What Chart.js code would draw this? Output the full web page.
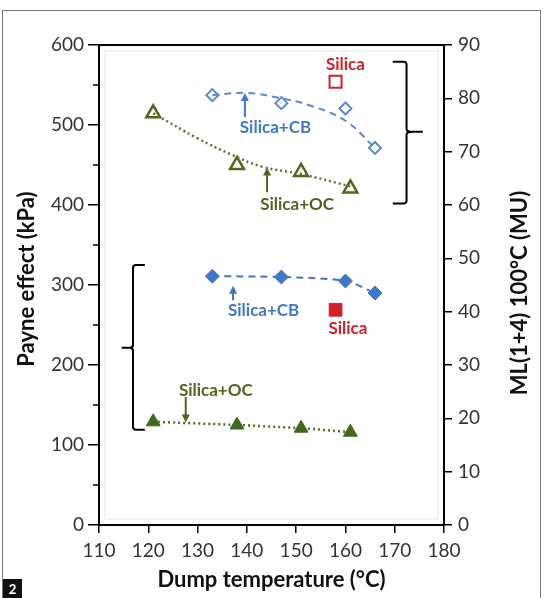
<!DOCTYPE html>
<html><head><meta charset="utf-8">
<script src="https://cdn.jsdelivr.net/npm/chart.js@4.4.1/dist/chart.umd.min.js"></script>
<style>
html,body{margin:0;padding:0;background:#fff;}
#wrap{position:relative;width:545px;height:598px;overflow:hidden;background:#fff;}
#frame{position:absolute;left:2px;top:10px;width:539px;height:600px;border:1.5px solid #7a7a7a;box-sizing:border-box;}
#badge{position:absolute;left:3px;top:579px;width:19px;height:19px;background:#111;color:#fff;font:bold 13px Lato, sans-serif;text-align:center;line-height:20px;}
canvas{position:absolute;left:0;top:0;}
</style></head><body>
<div id="wrap"><div id="frame"></div><canvas id="c" width="545" height="598"></canvas><div id="badge">2</div></div>
<script>
// ---- data ----
const tempCB = [133, 147, 160, 166];
const tempOC = [121, 138, 151, 161];
const tempSilica = [158];
const mlCB = [80.6, 79.1, 78.1, 70.7];        // ML(1+4) 100°C, open diamonds (right axis)
const mlOC = [77.2, 67.5, 66.2, 63.1];        // open triangles (right axis)
const mlSilica = [83.1];                      // open square (right axis)
const payneCB = [311, 310, 305, 290];         // Payne effect, filled diamonds (left axis)
const payneOC = [129, 125, 121, 116];         // filled triangles (left axis)
const payneSilica = [269];                    // filled square (left axis)
// trend curves (right axis)
const trendTempCB = [133, 140, 147, 153, 160, 166];
const trendMlCB = [80.6, 81.0, 80.0, 78.6, 75.8, 70.7];
const trendTempOC = [121, 130, 137, 143, 151, 161];
const trendMlOC = [77.2, 72.5, 69.4, 67.2, 65.8, 63.5];
const xTickValues = [110, 120, 130, 140, 150, 160, 170, 180];
const leftTickValues = [0, 100, 200, 300, 400, 500, 600];
const rightTickValues = [0, 10, 20, 30, 40, 50, 60, 70, 80, 90];
const leftTitle = 'Payne effect (kPa)';
const rightTitle = 'ML(1+4) 100°C (MU)';
const xTitle = 'Dump temperature (°C)';

const BLUE = '#3f78c4', BLUE_L = '#5a8ad0', OLIVE = '#56631f', GREEN = '#3d6a1c', RED = '#d0202a';

// annotations in data units (x = °C, y = kPa on left axis)
const labels = [
  {text:'Silica+CB', x:145.8, y:497, color:BLUE},
  {text:'Silica+OC', x:150.2, y:400, color:OLIVE},
  {text:'Silica',    x:160.0, y:575, color:RED},
  {text:'Silica+CB', x:143.4, y:268, color:BLUE},
  {text:'Silica',    x:160.5, y:245, color:RED},
  {text:'Silica+OC', x:133.7, y:168, color:OLIVE}
];
const arrows = [
  {x:139.6, from:510, to:540, color:BLUE},
  {x:144.1, from:416, to:447, color:OLIVE},
  {x:137.2, from:281, to:299, color:BLUE},
  {x:127.6, from:160, to:128, color:OLIVE}
];
const brackets = [
  {x:172.4, top:579, bottom:402, hook:169.6, mid:491.6, tip:175.7},
  {x:116.9, top:325, bottom:119, hook:119.3, mid:221.6, tip:114.6}
];

const pts = (xs, ys) => xs.map((x, i) => ({x, y: ys[i]}));

const overlay = {
  id: 'overlay',
  afterDraw(chart) {
    const {ctx, chartArea: a, scales} = chart;
    const X = v => scales.x.getPixelForValue(v);
    const Y = v => scales.y.getPixelForValue(v);
    ctx.save();
    // faint inner plot frame
    ctx.strokeStyle = '#efe4d8'; ctx.lineWidth = 1;
    ctx.strokeRect(a.left + 6, a.top + 6, a.right - a.left - 12, a.bottom - a.top - 12);
    // top border
    ctx.strokeStyle = '#000'; ctx.lineWidth = 2;
    ctx.beginPath(); ctx.moveTo(a.left - 1, a.top); ctx.lineTo(a.right + 1, a.top); ctx.stroke();
    // minor ticks on left axis
    ctx.lineWidth = 1.5;
    for (let v = 50; v < 600; v += 100) {
      const y = Y(v);
      ctx.beginPath(); ctx.moveTo(a.left - 6, y); ctx.lineTo(a.left, y); ctx.stroke();
    }
    // brackets
    ctx.lineWidth = 2; ctx.strokeStyle = '#000';
    brackets.forEach(b => {
      const x = X(b.x), t = Y(b.top), bo = Y(b.bottom), h = X(b.hook), m = Y(b.mid), tp = X(b.tip);
      const d = Math.sign(x - h) * 3;
      const k = x + (tp - x) * 0.3;
      ctx.beginPath();
      ctx.moveTo(h, t); ctx.lineTo(x - d, t); ctx.quadraticCurveTo(x, t, x, t + 3);
      ctx.lineTo(x, m - 3); ctx.quadraticCurveTo(x, m, k, m);
      ctx.lineTo(tp, m);
      ctx.moveTo(k, m); ctx.quadraticCurveTo(x, m, x, m + 3);
      ctx.lineTo(x, bo - 3); ctx.quadraticCurveTo(x, bo, x - d, bo); ctx.lineTo(h, bo);
      ctx.stroke();
    });
    // arrows
    arrows.forEach(ar => {
      const x = X(ar.x), y0 = Y(ar.from), y1 = Y(ar.to);
      const dir = Math.sign(y1 - y0);
      ctx.strokeStyle = ar.color; ctx.fillStyle = ar.color; ctx.lineWidth = 2;
      ctx.beginPath(); ctx.moveTo(x, y0); ctx.lineTo(x, y1 - dir * 6); ctx.stroke();
      ctx.beginPath(); ctx.moveTo(x, y1); ctx.lineTo(x - 4, y1 - dir * 8); ctx.lineTo(x + 4, y1 - dir * 8); ctx.closePath(); ctx.fill();
    });
    // labels
    ctx.font = 'bold 17px Lato, sans-serif';
    ctx.textAlign = 'center'; ctx.textBaseline = 'middle';
    labels.forEach(l => { ctx.fillStyle = l.color; ctx.fillText(l.text, X(l.x), Y(l.y)); });
    // vertical axis titles (both read bottom-to-top)
    ctx.fillStyle = '#111';
    ctx.font = 'bold 22px Lato, sans-serif';
    const midY = (a.top + a.bottom) / 2;
    [[27, midY - 6, leftTitle], [520, midY + 8, rightTitle]].forEach(([tx, ty, s]) => {
      ctx.save(); ctx.translate(tx, ty); ctx.rotate(-Math.PI / 2); ctx.fillText(s, 0, 0); ctx.restore();
    });
    ctx.restore();
  }
};

const tickFont = {family: 'Lato', size: 19};
const titleFont = {family: 'Lato', size: 22, weight: 'bold'};

new Chart(document.getElementById('c'), {
  type: 'scatter',
  data: {
    datasets: [
      {data: pts(trendTempCB, trendMlCB), yAxisID: 'y2', showLine: true, tension: 0.4, borderDash: [7, 5], borderColor: BLUE_L, borderWidth: 2, pointRadius: 0},
      {data: pts(trendTempOC, trendMlOC), yAxisID: 'y2', showLine: true, tension: 0.4, borderDash: [2, 3], borderColor: '#6b6a2c', borderWidth: 2.5, pointRadius: 0},
      {data: pts(tempCB, mlCB), yAxisID: 'y2',
       pointStyle: 'rectRot', pointRadius: 6, pointBackgroundColor: '#fff', pointBorderColor: BLUE_L, pointBorderWidth: 2},
      {data: pts(tempOC, mlOC), yAxisID: 'y2',
       pointStyle: 'triangle', pointRadius: 8, pointBackgroundColor: '#fff', pointBorderColor: OLIVE, pointBorderWidth: 2.5},
      {data: pts(tempSilica, mlSilica), yAxisID: 'y2',
       pointStyle: 'rect', pointRadius: 8.5, pointBackgroundColor: '#fff', pointBorderColor: RED, pointBorderWidth: 2},
      {data: pts(tempCB, payneCB), yAxisID: 'y', showLine: true, tension: 0.3, borderDash: [7, 5], borderColor: BLUE, borderWidth: 2,
       pointStyle: 'rectRot', pointRadius: 7, pointBackgroundColor: BLUE, pointBorderColor: BLUE, pointBorderWidth: 1},
      {data: pts(tempOC, payneOC), yAxisID: 'y', showLine: true, tension: 0.3, borderDash: [2, 3], borderColor: '#5c6a25', borderWidth: 2.5,
       pointStyle: 'triangle', pointRadius: 8, pointBackgroundColor: GREEN, pointBorderColor: GREEN, pointBorderWidth: 1},
      {data: pts(tempSilica, payneSilica), yAxisID: 'y',
       pointStyle: 'rect', pointRadius: 9, pointBackgroundColor: RED, pointBorderColor: RED, pointBorderWidth: 1}
    ]
  },
  options: {
    responsive: false, animation: false, devicePixelRatio: 1,
    layout: {padding: {top: 45, left: 0, right: 0, bottom: 0}},
    plugins: {legend: {display: false}, tooltip: {enabled: false}},
    scales: {
      x: {type: 'linear', min: 110, max: 180,
        afterBuildTicks: s => { s.ticks = xTickValues.map(v => ({value: v})); },
        afterFit: s => { s.height = 73; },
        grid: {drawOnChartArea: false, color: '#000', lineWidth: 1.5, tickLength: 8},
        border: {color: '#000', width: 2},
        ticks: {font: tickFont, color: '#333', padding: 6, maxRotation: 0},
        title: {display: true, text: xTitle, font: titleFont, color: '#111', padding: {top: 0, bottom: 5}}
      },
      y: {position: 'left', min: 0, max: 600,
        afterBuildTicks: s => { s.ticks = leftTickValues.map(v => ({value: v})); },
        afterFit: s => { s.width = 99; },
        grid: {drawOnChartArea: false, color: '#000', lineWidth: 1.5, tickLength: 11},
        border: {color: '#000', width: 2},
        ticks: {font: tickFont, color: '#333', padding: 4}
      },
      y2: {position: 'right', min: 0, max: 90,
        afterBuildTicks: s => { s.ticks = rightTickValues.map(v => ({value: v})); },
        afterFit: s => { s.width = 101; },
        grid: {drawOnChartArea: false, color: '#000', lineWidth: 1.5, tickLength: 8},
        border: {color: '#000', width: 2},
        ticks: {font: tickFont, color: '#333', padding: 6}
      }
    }
  },
  plugins: [overlay]
});
</script>
</body></html>
